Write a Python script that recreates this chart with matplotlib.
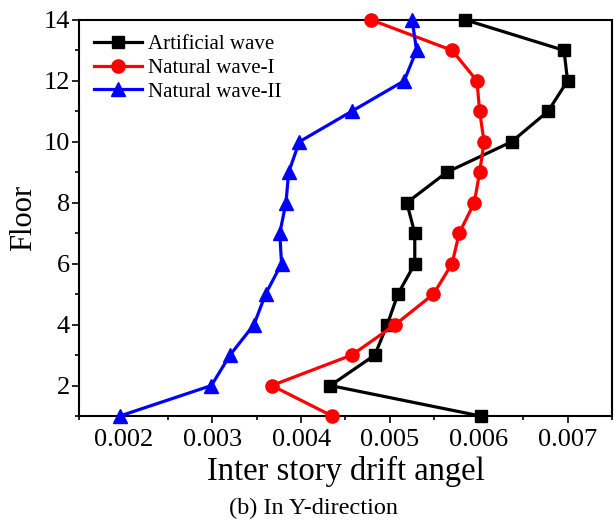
import matplotlib
matplotlib.use("Agg")
import matplotlib.pyplot as plt
from matplotlib.ticker import MultipleLocator, FuncFormatter

plt.rcParams["font.family"] = ["Liberation Serif", "DejaVu Serif"]
plt.rcParams["font.serif"] = ["Liberation Serif"]

floors = [14, 13, 12, 11, 10, 9, 8, 7, 6, 5, 4, 3, 2, 1]

# inter story drift angle per floor, Y-direction
artificial = [0.00585, 0.00696, 0.00700, 0.00678, 0.00637, 0.00564, 0.00519,
              0.00528, 0.00528, 0.00509, 0.00497, 0.00483, 0.00433, 0.00602]
natural_1 = [0.00479, 0.00570, 0.00598, 0.00601, 0.00606, 0.00601, 0.00595,
             0.00578, 0.00570, 0.00549, 0.00506, 0.00457, 0.00367, 0.00435]
natural_2 = [0.00525, 0.00530, 0.00516, 0.00457, 0.00398, 0.00386, 0.00383,
             0.00376, 0.00378, 0.00360, 0.00347, 0.00320, 0.00299, 0.00196]

labels = ["Artificial wave", "Natural wave-I", "Natural wave-II"]

fig = plt.figure(figsize=(6.14, 5.25), dpi=100)
ax = fig.add_axes([0.1287, 0.2076, 0.868, 0.7545])

ax.plot(artificial, floors, color="black", marker="s", lw=2.3, ms=8.5,
        label=labels[0], clip_on=False, zorder=3)
ax.plot(natural_1, floors, color="red", marker="o", lw=2.3, ms=9.5,
        label=labels[1], clip_on=False, zorder=3)
ax.plot(natural_2, floors, color="blue", marker="^", lw=2.3, ms=10,
        label=labels[2], clip_on=False, zorder=3)

ax.set_xlim(0.0015, 0.0075)
ax.set_ylim(1, 14)
ax.xaxis.set_major_locator(MultipleLocator(0.001))
ax.xaxis.set_minor_locator(MultipleLocator(0.0005))
ax.yaxis.set_major_locator(MultipleLocator(2))
ax.yaxis.set_minor_locator(MultipleLocator(1))
ax.xaxis.set_major_formatter(FuncFormatter(lambda v, p: "%.3f" % v))
ax.yaxis.set_major_formatter(FuncFormatter(lambda v, p: "%d" % v))

ax.tick_params(which="both", direction="out", width=1.2, labelsize=19,
               labelfontfamily="Liberation Serif", top=False, right=False)
ax.tick_params(which="major", length=5)
ax.tick_params(which="minor", length=3)
ax.tick_params(axis="x", pad=4)
ax.tick_params(axis="y", pad=1.5)
for s in ax.spines.values():
    s.set_linewidth(1.5)

ax.set_xlabel("Inter story drift angel", fontsize=23.5, labelpad=4)
ax.set_ylabel("Floor", fontsize=22, labelpad=4)

ax.legend(loc="upper left", frameon=False, fontsize=15, handlelength=2.3,
          labelspacing=0.2, handletextpad=0.3, borderaxespad=0.3,
          bbox_to_anchor=(0.0, 1.0))

# caption of the companion panel above, only its lowest edge falls on the page
fig.text(0.51, 1.0195, "(a) In X-direction", ha="center", va="center", fontsize=17.5)
fig.text(0.51, 0.032, "(b) In Y-direction", ha="center", va="center", fontsize=17.5)

fig.savefig("out.png", dpi=100)
